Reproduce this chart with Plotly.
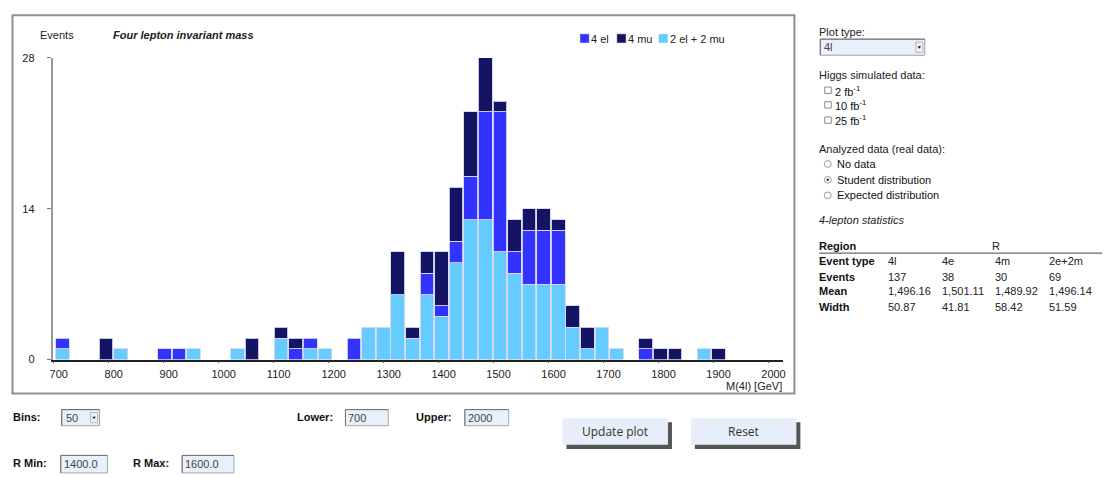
import plotly.graph_objects as go

# Histogram settings
LOWER = 700
UPPER = 2000
NBINS = 50
BIN_W = (UPPER - LOWER) / NBINS

# Event counts per bin (bins of 26 GeV starting at 700 GeV)
counts_2el2mu = [1, 0, 0, 0, 1, 0, 0, 0, 0, 1,
                 0, 0, 1, 0, 0, 2, 0, 1, 1, 0,
                 0, 3, 3, 6, 2, 6, 4, 9, 13, 13,
                 10, 8, 7, 7, 7, 3, 1, 3, 1, 0,
                 0, 0, 0, 0, 1, 0, 0, 0, 0, 0]
counts_4el = [1, 0, 0, 0, 0, 0, 0, 1, 1, 0,
              0, 0, 0, 0, 0, 0, 1, 1, 0, 0,
              2, 0, 0, 0, 0, 2, 1, 2, 4, 10,
              13, 2, 5, 5, 5, 0, 0, 0, 0, 0,
              1, 0, 0, 0, 0, 0, 0, 0, 0, 0]
counts_4mu = [0, 0, 0, 2, 0, 0, 0, 0, 0, 0,
              0, 0, 0, 2, 0, 1, 1, 0, 0, 0,
              0, 0, 0, 4, 1, 2, 5, 5, 6, 5,
              1, 3, 2, 2, 1, 2, 2, 0, 0, 0,
              1, 1, 1, 0, 0, 1, 0, 0, 0, 0]

series_names = ["2 el + 2 mu", "4 el", "4 mu"]
series_colors = ["#66CCFF", "#3333FF", "#141464"]
legend_order = [1, 2, 0]

x_ticks = [700, 800, 900, 1000, 1100, 1200, 1300, 1400, 1500, 1600, 1700, 1800, 1900, 2000]
y_ticks = [0, 14, 28]

# Statistics table for region R
stat_cols = ["4l", "4e", "4m", "2e+2m"]
stat_events = ["137", "38", "30", "69"]
stat_mean = ["1,496.16", "1,501.11", "1,489.92", "1,496.14"]
stat_width = ["50.87", "41.81", "58.42", "51.59"]

W, H = 1104, 477
FONT = "Liberation Sans, Arial, sans-serif"
TXT = "#222222"


def X(p):
    return p / W


def Y(p):
    return 1 - p / H


centers = [LOWER + BIN_W * (k + 0.5) for k in range(NBINS)]

fig = go.Figure()
for name, color, vals in zip(series_names, series_colors,
                             [counts_2el2mu, counts_4el, counts_4mu]):
    fig.add_trace(go.Bar(
        x=centers,
        y=[v if v else None for v in vals],
        name=name,
        marker=dict(color=color, line=dict(color="rgba(215,215,240,0.9)", width=1)),
        xaxis="x", yaxis="y", showlegend=False,
    ))

# empty trace so the mass axis with its tick labels is drawn
fig.add_trace(go.Scatter(x=[LOWER, UPPER], y=[None, None], xaxis="x2", yaxis="y",
                         mode="lines", showlegend=False, hoverinfo="skip"))

# plot area in pixels
PL, PR = 50, 784
PB, PT = 362.7, 53.3
bar_px_per_gev = 14.65 / BIN_W
tick_px_per_gev = 55.23 / 100
bar_start = LOWER - (52.3 - PL) / bar_px_per_gev
bar_end = bar_start + (PR - PL) / bar_px_per_gev
tick_start = LOWER - (51 - PL) / tick_px_per_gev
tick_end = tick_start + (PR - PL) / tick_px_per_gev

fig.update_layout(
    width=W, height=H,
    margin=dict(l=0, r=0, t=0, b=0),
    paper_bgcolor="white", plot_bgcolor="white",
    barmode="stack", bargap=0.06,
    font=dict(family=FONT, size=11, color=TXT),
    xaxis=dict(domain=[X(PL), X(PR)], range=[bar_start, bar_end],
               visible=False, fixedrange=True),
    xaxis2=dict(domain=[X(PL), X(PR)], range=[tick_start, tick_end],
                overlaying="x", anchor="y", side="bottom",
                tickmode="array", tickvals=x_ticks,
                ticks="outside", ticklen=2, tickcolor="#555", tickwidth=1,
                ticklabelshift=5, ticklabelstandoff=1,
                showline=True, linecolor="#222", linewidth=1.5,
                showgrid=False, zeroline=False,
                tickfont=dict(family=FONT, size=11, color=TXT)),
    yaxis=dict(domain=[Y(PB), Y(PT)], range=[0, 28],
               tickmode="array", tickvals=y_ticks,
               ticks="outside", ticklen=4, tickcolor="#777",
               ticklabelstandoff=10,
               showline=True, linecolor="#999", linewidth=2,
               showgrid=False, zeroline=False,
               tickfont=dict(family=FONT, size=11, color=TXT)),
)

shapes = []
annos = []


def text(x, y, s, size=11, color=TXT, anchor="left", family=FONT):
    # annotation boxes carry ~2px of padding, compensate for left anchored text
    dx = -2 if anchor == "left" else (2 if anchor == "right" else 0)
    annos.append(dict(x=X(x + dx), y=Y(y), xref="paper", yref="paper", text=s,
                      showarrow=False, xanchor=anchor, yanchor="middle",
                      font=dict(family=family, size=size, color=color)))


def rect(x0, y0, x1, y1, fill="white", line="#999", lw=1):
    shapes.append(dict(type="rect", xref="paper", yref="paper",
                       x0=X(x0), x1=X(x1), y0=Y(y1), y1=Y(y0),
                       fillcolor=fill, line=dict(color=line, width=lw)))


def line(x0, y0, x1, y1, color="#333", lw=1):
    shapes.append(dict(type="line", xref="paper", yref="paper",
                       x0=X(x0), x1=X(x1), y0=Y(y0), y1=Y(y1),
                       line=dict(color=color, width=lw)))


# chart frame
rect(9.5, 9.5, 795, 397.5, fill="rgba(0,0,0,0)", line="#8f8f8f", lw=2)

# chart texts
text(37, 30, "Events")
text(110, 30, "<b><i>Four lepton invariant mass</i></b>")
text(783, 389.5, "M(4l) [GeV]", anchor="right")

# legend
lx = [580, 617, 659]
for i, xpos in zip(legend_order, lx):
    rect(xpos, 29, xpos + 8.5, 37.5, fill=series_colors[i], line=series_colors[i], lw=0.5)
    text(xpos + 11, 33.5, series_names[i])


def select_box(x0, y0, x1, y1, label):
    rect(x0, y0, x1, y1, fill="#E8F0FB", line="#a0a0a0")
    line(x0, y0, x1, y0, "#6a6a6a", 1)
    line(x0, y0, x0, y1, "#6a6a6a", 1)
    rect(x1 - 9, y0 + 3, x1 - 2, y1 - 3, fill="#f0f0f0", line="#b5b5b5")
    shapes.append(dict(type="path", xref="paper", yref="paper",
                       path=f"M {X(x1 - 7.3)} {Y((y0 + y1) / 2 - 1)} L {X(x1 - 3.7)} {Y((y0 + y1) / 2 - 1)} "
                            f"L {X(x1 - 5.5)} {Y((y0 + y1) / 2 + 1.5)} Z",
                       fillcolor="#111", line=dict(width=0)))
    text(x0 + 4, (y0 + y1) / 2, label, color="#444")


def input_box(x0, y0, x1, y1, label):
    rect(x0, y0, x1, y1, fill="#E8F0FB", line="#a8a8a8")
    line(x0, y0, x1, y0, "#707070", 1)
    line(x0, y0, x0, y1, "#707070", 1)
    text(x0 + 3, (y0 + y1) / 2, label, color="#444")


# right panel
text(820, 26.5, "Plot type:")
select_box(821, 34, 926, 50.5, "4l")

text(820, 70.5, "Higgs simulated data:")
for yy, lab in zip([86.7, 101.7, 117.3], ["2", "10", "25"]):
    rect(825.5, yy - 3.5, 832, yy + 3, fill="white", line="#8a8a8a")
    text(836, yy, f"{lab} fb<sup>-1</sup>", color="#111")

text(820, 146.5, "Analyzed data (real data):")
radios = ["No data", "Student distribution", "Expected distribution"]
for j, (yy, lab) in enumerate(zip([162, 178.3, 194.3], radios)):
    shapes.append(dict(type="circle", xref="paper", yref="paper",
                       x0=X(825), x1=X(832), y0=Y(yy + 3.5), y1=Y(yy - 3.5),
                       fillcolor="white", line=dict(color="#9a9a9a", width=1)))
    if j == 1:
        shapes.append(dict(type="circle", xref="paper", yref="paper",
                           x0=X(827.2), x1=X(829.8), y0=Y(yy + 1.3), y1=Y(yy - 1.3),
                           fillcolor="#333", line=dict(width=0)))
    text(838, yy, lab, color="#111")

text(820, 220, "<i>4-lepton statistics</i>")

# statistics table
col_x = [889, 943, 997, 1051]
text(820, 246, "<b>Region</b>", color="#111")
text(993, 246, "R")
line(820, 253.5, 1104, 253.5, "#444", 1)
rows = [("Event type", stat_cols, 262), ("Events", stat_events, 277.5),
        ("Mean", stat_mean, 292.7), ("Width", stat_width, 308.3)]
for label, vals, yy in rows:
    text(820, yy, f"<b>{label}</b>", color="#111")
    for cx, v in zip(col_x, vals):
        text(cx, yy, v)

# bottom controls
text(10, 422, "<b>Bins:</b>", color="#111")
select_box(59, 414, 97, 430.5, "50")
text(295, 422, "<b>Lower:</b>", color="#111")
input_box(344, 414, 387, 430.5, "700")
text(415, 422, "<b>Upper:</b>", color="#111")
input_box(464, 414, 508, 430.5, "2000")
text(10, 469, "<b>R Min:</b>", color="#111")
input_box(58, 461, 105, 479, "1400.0")
text(131, 469, "<b>R Max:</b>", color="#111")
input_box(180, 461, 232, 479, "1600.0")

# buttons with drop shadow
for bx0, bx1, lab in [(562, 668, "Update plot"), (691, 797, "Reset")]:
    rect(bx0 + 4, 427, bx1 + 4, 454.5, fill="#555", line="#555", lw=0)
    rect(bx0, 423, bx1, 450, fill="#E6EEF9", line="#E6EEF9", lw=0)
    text((bx0 + bx1) / 2, 436.5, lab, size=12, color="#333", anchor="center",
         family="Open Sans, Noto Sans, sans-serif")

fig.update_layout(shapes=shapes, annotations=annos)
fig.write_html("out.html")
